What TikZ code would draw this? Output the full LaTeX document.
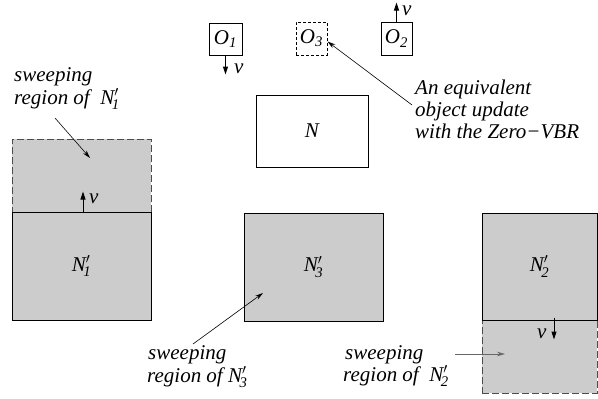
\documentclass[tikz,border=0pt]{standalone}
\usepackage{amsmath}
\usepackage{fontspec}
\setmainfont{Liberation Serif}
\usetikzlibrary{arrows.meta}
\newcommand{\Nsub}[1]{\textit{N}$'_{\!\textit{#1}}$}
\newcommand{\Osub}[1]{\textit{O}$_{\textit{#1}}$}
\begin{document}
\begin{tikzpicture}[x=1pt,y=-1pt,
  lbl/.style={font=\fontsize{21}{23}\selectfont\itshape, inner sep=0pt},
  boxed/.style={draw, line width=1pt, inner sep=0pt, font=\fontsize{21}{23}\selectfont\itshape},
  shaded/.style={boxed, fill=black!20},
  sweep/.style={fill=black!20, draw=black!70, line width=1pt, dash pattern=on 7pt off 3pt, inner sep=0pt},
  vel/.style={-{Triangle[length=8pt,width=5pt]}, line width=1pt},
  lead/.style={-{Stealth[length=8pt,width=4.5pt]}, line width=0.6pt}]
\useasboundingbox (0,0) rectangle (598,399);
% top objects
\node[boxed, minimum width=33pt, minimum height=32pt] (o1) at (225.5,39) {\Osub{1}};
\node[boxed, dashed, dash pattern=on 3pt off 2pt, minimum width=31pt, minimum height=33pt] (o3) at (311.5,38.5) {\Osub{3}};
\node[boxed, minimum width=31pt, minimum height=33pt] (o2) at (396.5,38.5) {\Osub{2}};
\node[boxed, minimum width=112pt, minimum height=72pt] (n) at (312,131) {N};
% sweeping regions
\node[sweep, minimum width=139pt, minimum height=74pt] (s1) at (81.5,176) {};
\node[sweep, minimum width=115pt, minimum height=73pt] (s2) at (539.5,356.5) {};
% moved boxes
\node[shaded, minimum width=139pt, minimum height=108pt] (n1) at (81.5,266) {\Nsub{1}};
\node[shaded, minimum width=139pt, minimum height=108pt] (n3) at (313.5,267) {\Nsub{3}};
\node[shaded, minimum width=115pt, minimum height=107pt] (n2) at (539.5,266.5) {\Nsub{2}};
% velocity arrows
\draw[vel] (o1.south) -- ++(0,19);
\node[lbl, anchor=base west] (v1) at (234,73) {v};
\draw[vel] (o2.north) -- ++(0,-19);
\node[lbl, anchor=base west] (v2) at (402,15) {v};
\draw[vel] ([xshift=1.5pt]n1.north) -- ++(0,-20);
\node[lbl, anchor=base west] (v3) at (89,203) {v};
\draw[vel] ([xshift=14.5pt,yshift=3pt]n2.south) -- ++(0,22);
\node[lbl, anchor=base west] (v4) at (537,338) {v};
% texts
\node[lbl, anchor=base west] (t1a) at (14,81) {sweeping};
\node[lbl, anchor=base west] (t1b) at (14,104) {region of\ \ \Nsub{1}};
\node[lbl, anchor=base west] (t3a) at (148,359) {sweeping};
\node[lbl, anchor=base west] (t3b) at (147,382) {region of \Nsub{3}};
\node[lbl, anchor=base west] (t2a) at (345,359) {sweeping};
\node[lbl, anchor=base west] (t2b) at (343,381) {region of\ \ \Nsub{2}};
\node[lbl, anchor=base west] (e1) at (415,94) {An equivalent};
\node[lbl, anchor=base west] (e2) at (415,116) {object update};
\node[lbl, anchor=base west] (e3) at (415,138) {with the Zero−VBR};
% leader arrows
\coordinate (a1s) at (55,118);
\coordinate (a1e) at (90,158);
\draw[lead] (a1s) -- (a1e);
\coordinate (a2s) at (412,105);
\draw[lead] (a2s) -- ([yshift=-3pt]o3.east);
\coordinate (a3s) at (193,344);
\coordinate (a3e) at (263,293);
\draw[lead] (a3s) -- (a3e);
\coordinate (a4s) at (455,354);
\coordinate (a4e) at (505,354);
\draw[lead, draw=black!60, fill=black!60] (a4s) -- (a4e);
\end{tikzpicture}
\end{document}
